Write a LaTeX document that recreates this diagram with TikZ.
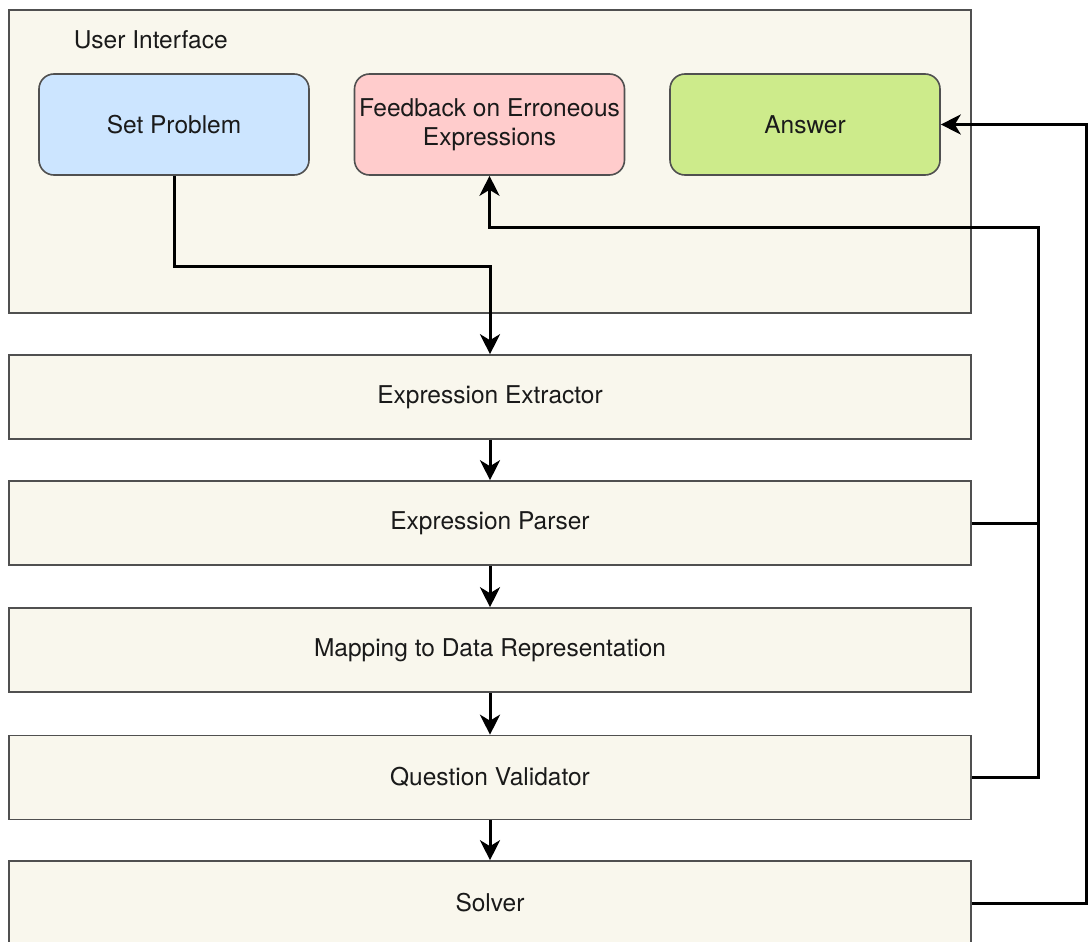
\documentclass[tikz,border=0pt]{standalone}
\usepackage{fontspec}
\setmainfont{TeX Gyre Heros}
\usetikzlibrary{arrows.meta,positioning}
\definecolor{paper}{HTML}{F9F7ED}
\definecolor{edge}{HTML}{505050}
\definecolor{bluefill}{HTML}{CCE5FF}
\definecolor{redfill}{HTML}{FFCCCC}
\definecolor{greenfill}{HTML}{CDEB8B}
\definecolor{ink}{HTML}{1A1A1A}
\tikzset{
  base/.style={draw=edge, line width=1.6pt, text=ink, align=center,
    font=\fontsize{24.5}{29}\selectfont, inner sep=0pt},
  stage/.style={base, rectangle, fill=paper, minimum width=962pt, minimum height=84pt},
  panel/.style={base, rectangle, fill=paper, minimum width=962pt, minimum height=303pt},
  card/.style={base, rounded corners=15pt, minimum width=270pt, minimum height=101pt},
  wire/.style={line width=3pt, black},
  conn/.style={wire, -{Stealth[length=20pt, width=20pt, inset=6pt]}}
}
\begin{document}
\begin{tikzpicture}[x=1pt, y=-1pt]
\useasboundingbox (0,0) rectangle (1088,942);

% user interface panel and its three cards
\node[panel] (ui) at (490,161.5) {};
\node[base, draw=none, fill=none, anchor=west] (uilabel) at (73,40) {User Interface};
\node[card, fill=bluefill] (sp) at (174,124.5) {Set Problem};
\node[card, fill=redfill] (fb) at (489.5,124.5) {Feedback on Erroneous\\Expressions};
\node[card, fill=greenfill] (ans) at (805,124.5) {Answer};

% processing pipeline
\node[stage] (ext) at (490,397) {Expression Extractor};
\node[stage] (par) at (490,523) {Expression Parser};
\node[stage] (map) at (490,650) {Mapping to Data Representation};
\node[stage] (val) at (490,777.5) {Question Validator};
\node[stage] (sol) at (490,903) {Solver};

% bus lines on the right
\coordinate (busA) at (1038,227);
\coordinate (busB) at (1086,124.5);

% connectors
\draw[conn] (sp.south) -- (sp.south |- 0,266) -| (ext.north);
\draw[conn] (ext.south) -- (par.north);
\draw[conn] (par.south) -- (map.north);
\draw[conn] (map.south) -- (val.north);
\draw[conn] (val.south) -- (sol.north);
\draw[wire] (par.east) -- (par.east -| busA);
\draw[conn] (val.east) -| (busA) -| (fb.south);
\draw[conn] (sol.east) -| (busB) -- (ans.east);
\end{tikzpicture}
\end{document}
